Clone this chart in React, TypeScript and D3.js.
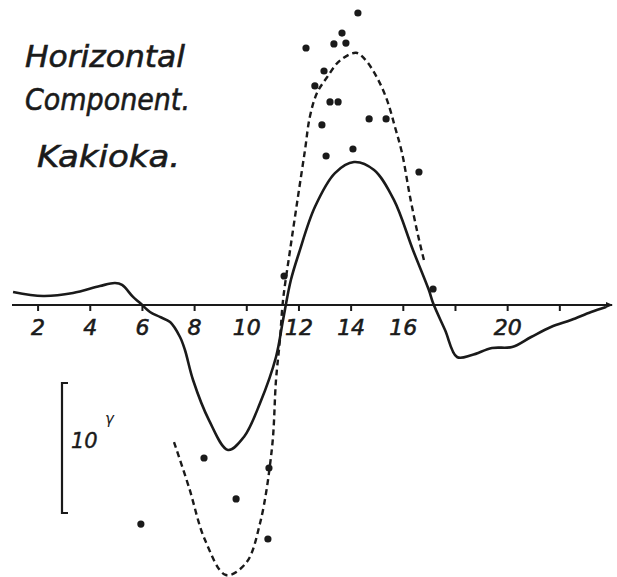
import React from "react";
import * as d3 from "d3";

// Mean diurnal variation of the horizontal component at Kakioka (in gammas vs. local hour)
const solidHours = [1.04, 2.19, 3.34, 4.37, 4.95, 5.22, 5.64, 5.91, 6.29, 6.67, 7.06, 7.44, 7.63, 7.94, 8.55, 9.28, 9.89, 10.51, 11.12, 11.39, 11.69, 12.0, 12.61, 13.38, 14.11, 14.88, 15.64, 16.37, 16.98, 17.14, 17.6, 18.06, 18.63, 19.4, 20.17, 20.9, 21.66, 22.43, 23.2, 23.77];
const solidGamma = [1.0, 0.69, 0.92, 1.46, 1.69, 1.54, 0.62, 0.15, -0.54, -0.92, -1.31, -2.46, -3.46, -5.77, -8.85, -11.15, -10.15, -7.54, -4.0, -1.15, 1.92, 4.0, 7.54, 10.15, 11.0, 10.38, 8.08, 4.23, 1.15, 0.15, -1.92, -4.0, -3.85, -3.31, -3.23, -2.46, -1.69, -1.15, -0.54, -0.15];

// Disturbed-day curve
const dashedHours = [7.21, 7.78, 8.4, 9.2, 9.97, 10.51, 10.97, 11.12, 11.27, 11.39, 11.66, 11.96, 12.23, 12.42, 12.69, 13.07, 13.57, 14.19, 14.53, 14.99, 15.37, 15.68, 15.95, 16.26, 16.56, 16.79];
const dashedGamma = [-10.54, -14.0, -18.08, -20.77, -19.85, -16.77, -10.92, -5.77, -2.69, 0.38, 4.23, 8.3, 11.9, 14.5, 16.3, 17.5, 18.8, 19.4, 18.9, 17.5, 15.8, 13.7, 11.7, 8.3, 5.4, 3.46];

// Individual observations
const dotHours = [14.26, 13.65, 13.34, 13.8, 12.27, 12.96, 12.61, 13.19, 13.5, 12.88, 14.69, 15.34, 13.04, 14.07, 16.6, 11.43, 17.14, 8.36, 10.85, 9.59, 5.94, 10.81];
const dotGamma = [22.46, 20.92, 20.08, 20.15, 19.77, 18.0, 16.85, 15.62, 15.62, 13.85, 14.31, 14.31, 11.46, 12.0, 10.23, 2.23, 1.23, -11.77, -12.54, -14.92, -16.85, -18.0];

const tickHours = [2, 4, 6, 8, 10, 12, 14, 16, 18, 20, 22];
const tickLabels = ["2", "4", "6", "8", "10", "12", "14", "16", "", "20", ""];
const titleLines = ["Horizontal", "Component.", "Kakioka."];
const scaleLabel = "10";
const scaleUnit = "γ";
const scaleFrom = -6;
const scaleSpan = 10;

const W = 617;
const H = 577;
const hand = "'DejaVu Sans', 'Liberation Sans', sans-serif";

export default function App() {
  const x = d3.scaleLinear().domain([1, 24]).range([12, 612]);
  const y = d3.scaleLinear().domain([0, 10]).range([305, 175]);

  const line = d3
    .line<[number, number]>()
    .x((d) => x(d[0]))
    .y((d) => y(d[1]))
    .curve(d3.curveCatmullRom.alpha(0.5));

  const solid = solidHours.map((h, i) => [h, solidGamma[i]] as [number, number]);
  const dashed = dashedHours.map((h, i) => [h, dashedGamma[i]] as [number, number]);

  const ink = "#1a1a1a";
  const barTop = y(scaleFrom);
  const barBottom = y(scaleFrom - scaleSpan);

  return (
    <svg
      width={W}
      height={H}
      viewBox={`0 0 ${W} ${H}`}
      style={{ position: "absolute", left: 0, top: 0, background: "#fff" }}
    >
      {/* Title */}
      <g fill={ink} stroke={ink} strokeWidth={0.6} fontFamily={hand} fontStyle="italic">
        <text x={25} y={67} fontSize={30} textLength={160} lengthAdjust="spacingAndGlyphs">
          {titleLines[0]}
        </text>
        <text x={25} y={110} fontSize={30} textLength={165} lengthAdjust="spacingAndGlyphs">
          {titleLines[1]}
        </text>
        <text x={37} y={167} fontSize={31} textLength={143} lengthAdjust="spacingAndGlyphs">
          {titleLines[2]}
        </text>
      </g>

      {/* Time axis */}
      <line x1={x(1)} x2={x(24)} y1={y(0)} y2={y(0)} stroke={ink} strokeWidth={2.2} />
      <path
        d={`M${x(24) - 6},${y(0) - 3} L${x(24) + 1},${y(0)} L${x(24) - 6},${y(0) + 3} Z`}
        fill={ink}
      />
      {tickHours.map((h, i) => (
        <g key={h}>
          <line x1={x(h)} x2={x(h)} y1={y(0)} y2={y(0) + 6} stroke={ink} strokeWidth={2} />
          {tickLabels[i] && (
            <text
              x={x(h)}
              y={335}
              textAnchor="middle"
              fontFamily={hand}
              fontStyle="italic"
              fontSize={22}
              fill={ink}
              stroke={ink}
              strokeWidth={0.6}
            >
              {tickLabels[i]}
            </text>
          )}
        </g>
      ))}

      {/* Curves */}
      <path d={line(dashed) ?? ""} fill="none" stroke={ink} strokeWidth={2.4} strokeDasharray="6 4" />
      <path d={line(solid) ?? ""} fill="none" stroke={ink} strokeWidth={2.6} strokeLinejoin="round" />

      {/* Observations */}
      {dotHours.map((h, i) => (
        <circle key={i} cx={x(h)} cy={y(dotGamma[i])} r={3.6} fill={ink} />
      ))}

      {/* Scale bar */}
      <path
        d={`M68,${barTop} H62 V${barBottom} H68`}
        fill="none"
        stroke={ink}
        strokeWidth={2.2}
      />
      <text x={71} y={448} fontFamily={hand} fontStyle="italic" fontSize={21} fill={ink} stroke={ink} strokeWidth={0.4}>
        {scaleLabel}
      </text>
      <text x={105} y={424} fontFamily={hand} fontStyle="italic" fontSize={15} fill={ink}>
        {scaleUnit}
      </text>
    </svg>
  );
}
